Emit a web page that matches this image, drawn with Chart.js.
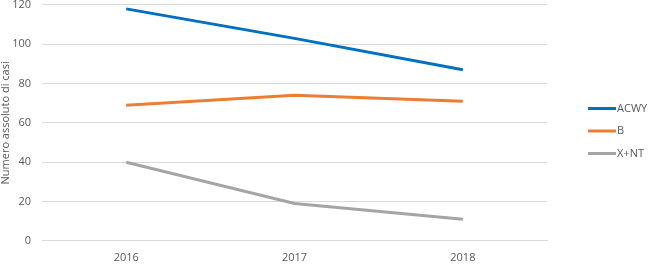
<!DOCTYPE html>
<html>
<head>
<meta charset="utf-8">
<script src="https://cdn.jsdelivr.net/npm/chart.js@4/dist/chart.umd.min.js"></script>
<style>
  html, body { margin: 0; padding: 0; background: #fff; }
  #wrap { width: 648px; height: 264px; position: relative; }
</style>
</head>
<body>
<div id="wrap"><canvas id="myChart" width="648" height="264"></canvas></div>
<script>
// data
const years = ['2016', '2017', '2018'];
const acwy = [118, 103, 87];
const seroB = [69, 74, 71];
const xnt = [40, 19, 11];
const seriesNames = ['ACWY', 'B', 'X+NT'];
const seriesColors = ['#0070c0', '#ed7d31', '#a5a5a5'];

const textColor = '#595959';
const gridColor = '#d9d9d9';

// small legend on the right, drawn after the chart
const rightLegend = {
  id: 'rightLegend',
  afterDraw(chart) {
    const ctx = chart.ctx;
    const sets = chart.data.datasets;
    const x0 = 588;
    const midY = 131;
    const gap = 22.5;
    ctx.save();
    ctx.font = '11px "Open Sans", sans-serif';
    ctx.fillStyle = textColor;
    ctx.textBaseline = 'middle';
    sets.forEach((ds, i) => {
      const y = midY + (i - 1) * gap;
      ctx.strokeStyle = ds.borderColor;
      ctx.lineWidth = 3;
      ctx.beginPath();
      ctx.moveTo(x0, y);
      ctx.lineTo(x0 + 28, y);
      ctx.stroke();
      ctx.fillText(ds.label, x0 + 29, y);
    });
    ctx.restore();
  }
};

let datasets = [acwy, seroB, xnt].map((vals, i) => ({
  label: seriesNames[i],
  data: vals,
  borderColor: seriesColors[i],
  backgroundColor: seriesColors[i],
  borderWidth: 3,
  pointRadius: 0,
  tension: 0
}));

let ctx = document.getElementById('myChart').getContext('2d');
const myChart = new Chart(ctx, {
  type: 'line',
  data: { labels: years, datasets: datasets },
  options: {
    responsive: false,
    animation: false,
    devicePixelRatio: 1,
    layout: { padding: { top: 0, right: 101, bottom: 0, left: -1 } },
    plugins: {
      legend: { display: false },
      tooltip: { enabled: false }
    },
    scales: {
      x: {
        offset: true,
        // invisible tick marks just to leave room under the axis line
        grid: { display: false, drawTicks: true, tickLength: 10 },
        border: { color: gridColor },
        ticks: { color: textColor, font: { family: 'Open Sans', size: 11 }, padding: 0 }
      },
      y: {
        min: 0,
        max: 120,
        ticks: { stepSize: 20, color: textColor, font: { family: 'Open Sans', size: 11, lineHeight: 0.9 }, padding: 0 },
        grid: { color: gridColor, lineWidth: 1, drawTicks: true, tickLength: 11, tickColor: 'rgba(0,0,0,0)' },
        border: { display: false },
        title: {
          display: true,
          text: 'Numero assoluto di casi',
          color: textColor,
          font: { family: 'Open Sans', size: 11 },
          padding: 0
        }
      }
    }
  },
  plugins: [rightLegend]
});
</script>
</body>
</html>
